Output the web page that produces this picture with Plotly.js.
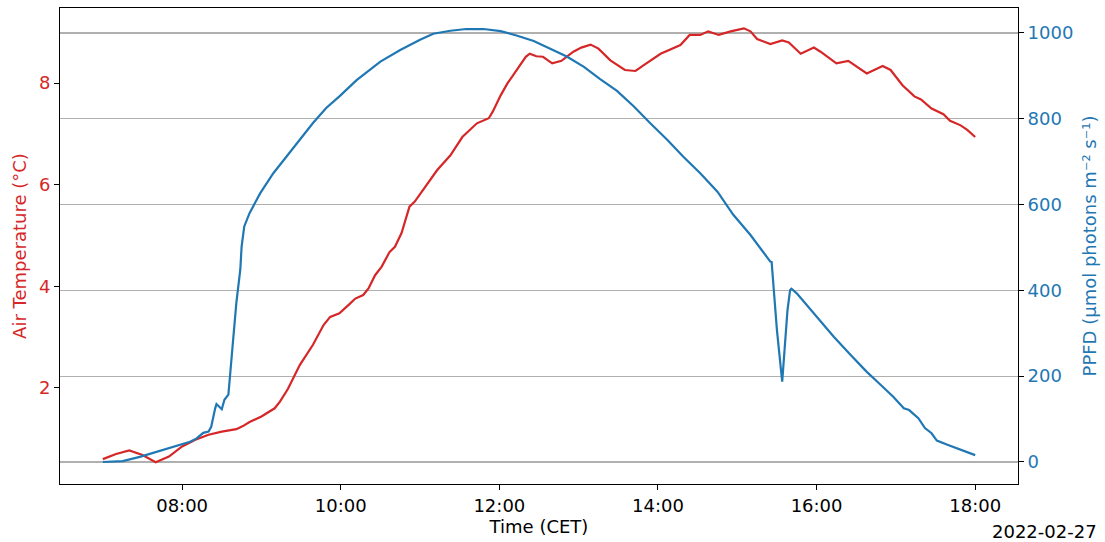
<!DOCTYPE html>
<html>
<head>
<meta charset="utf-8">
<script src="https://cdn.plot.ly/plotly-3.0.1.min.js"></script>
<style>html,body{margin:0;padding:0;background:#fff;}#chart{width:1105px;height:542px;}</style>
</head>
<body>
<div id="chart"></div>
<script>
var day = "2022-02-27";

var tempTimes = ["07:00","07:10","07:20","07:30","07:40","07:50","08:00","08:10","08:20","08:30","08:41","08:46","08:51","09:00","09:10","09:14","09:20","09:25","09:29","09:39","09:47","09:52","09:59","10:07","10:11","10:17","10:21","10:26","10:31","10:37","10:41","10:46","10:52","10:56","11:04","11:13","11:23","11:32","11:43","11:52","11:55","12:01","12:06","12:13","12:20","12:23","12:28","12:33","12:40","12:47","12:56","13:02","13:09","13:15","13:24","13:35","13:43","13:49","14:02","14:17","14:24","14:32","14:38","14:46","14:55","15:05","15:10","15:15","15:25","15:34","15:39","15:48","15:58","16:03","16:15","16:24","16:38","16:50","16:56","17:05","17:14","17:19","17:27","17:36","17:41","17:49","17:54","18:00"];
var tempValues = [0.60,0.70,0.77,0.68,0.54,0.65,0.85,0.98,1.08,1.14,1.19,1.25,1.33,1.44,1.60,1.73,1.98,2.26,2.45,2.85,3.24,3.40,3.47,3.66,3.76,3.83,3.96,4.22,4.39,4.68,4.78,5.05,5.57,5.67,5.96,6.29,6.58,6.94,7.21,7.31,7.44,7.76,7.99,8.26,8.52,8.58,8.53,8.52,8.39,8.44,8.62,8.70,8.76,8.68,8.45,8.26,8.24,8.35,8.58,8.75,8.95,8.95,9.02,8.95,9.02,9.08,9.02,8.87,8.77,8.84,8.80,8.58,8.70,8.62,8.39,8.44,8.19,8.34,8.26,7.96,7.74,7.68,7.50,7.39,7.26,7.17,7.08,6.94];

var ppfdTimes = ["07:00","07:15","07:28","07:41","07:53","08:06","08:11","08:16","08:20","08:22","08:25","08:26","08:30","08:32","08:35","08:36","08:39","08:41","08:44","08:45","08:47","08:51","08:59","09:09","09:19","09:29","09:39","09:49","09:59","10:12","10:22","10:30","10:45","10:52","11:00","11:10","11:23","11:35","11:48","12:01","12:13","12:26","12:38","12:51","13:04","13:16","13:29","13:42","13:54","14:07","14:19","14:32","14:45","14:57","15:10","15:22","15:25","15:26","15:27","15:30","15:34","15:36","15:38","15:40","15:41","15:45","16:00","16:13","16:26","16:38","16:46","16:58","17:06","17:10","17:17","17:22","17:27","17:31","17:39","17:46","17:54","18:00"];
var ppfdValues = [0,2,12,24,36,47,55,68,71,82,125,135,123,145,157,195,292,370,448,502,549,580,626,673,712,751,790,825,852,890,914,933,960,972,984,998,1005,1009,1009,1004,994,981,964,945,921,893,865,828,790,751,712,673,630,576,529,479,467,466,424,308,187,261,354,401,404,393,340,292,249,210,187,152,125,121,102,79,67,50,40,32,23,16];

var xTickLabels = ["08:00","10:00","12:00","14:00","16:00","18:00"];
var tempTicks = [2,4,6,8];
var ppfdTicks = [0,200,400,600,800,1000];

function full(t){ return day + " " + t; }

var red = "#d62728", blue = "#1f77b4";
var font = "DejaVu Sans, sans-serif";
var fs = 18;

var traces = [
  {x: tempTimes.map(full), y: tempValues, type: "scatter", mode: "lines",
   line: {color: red, width: 2.2}, yaxis: "y", hoverinfo: "skip"},
  {x: ppfdTimes.map(full), y: ppfdValues, type: "scatter", mode: "lines",
   line: {color: blue, width: 2.2}, yaxis: "y2", hoverinfo: "skip"}
];

var layout = {
  width: 1105, height: 542,
  margin: {l: 60, r: 87, t: 8, b: 58},
  paper_bgcolor: "#fff", plot_bgcolor: "#fff",
  showlegend: false,
  font: {family: font, size: fs, color: "#000"},
  xaxis: {
    type: "date",
    range: [full("06:27:36"), full("18:32:24")],
    tickvals: xTickLabels.map(full),
    ticktext: xTickLabels,
    ticks: "outside", ticklen: 5, tickwidth: 1, tickcolor: "#000",
    showline: true, linecolor: "#000", linewidth: 1, mirror: true,
    showgrid: false, zeroline: false,
    tickfont: {family: font, size: fs, color: "#000"},
    title: {text: "Time (CET)", font: {family: font, size: fs, color: "#000"}, standoff: 5},
    automargin: false
  },
  yaxis: {
    range: [0.11, 9.48],
    tickvals: tempTicks,
    ticks: "outside", ticklen: 5, tickwidth: 1, tickcolor: "#000",
    showline: true, linecolor: "#000", linewidth: 1,
    showgrid: false, zeroline: false,
    tickfont: {family: font, size: fs, color: red},
    title: {text: "Air Temperature (°C)", font: {family: font, size: fs, color: red}, standoff: 7},
    automargin: false
  },
  yaxis2: {
    overlaying: "y", side: "right",
    range: [-51.3, 1058],
    tickvals: ppfdTicks,
    ticks: "outside", ticklen: 5, tickwidth: 1, tickcolor: "#000",
    showline: true, linecolor: "#000", linewidth: 1,
    showgrid: true, gridcolor: "#b0b0b0", gridwidth: 1.3, zeroline: false,
    tickfont: {family: font, size: fs, color: blue},
    title: {text: "PPFD (µmol photons m⁻² s⁻¹)", font: {family: font, size: fs, color: blue}, standoff: 10},
    automargin: false
  },
  annotations: [
    {text: "2022-02-27", xref: "paper", yref: "paper", x: 1.085, y: -0.099,
     xanchor: "right", yanchor: "middle", showarrow: false,
     font: {family: font, size: fs, color: "#000"}}
  ]
};

Plotly.newPlot("chart", traces, layout, {displayModeBar: false, staticPlot: true});
</script>
</body>
</html>
